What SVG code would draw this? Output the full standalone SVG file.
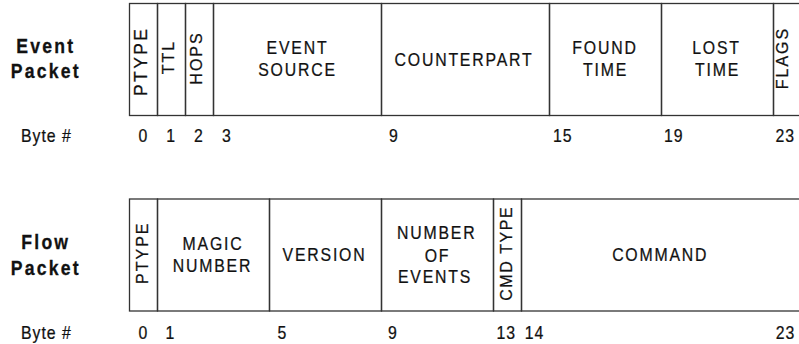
<svg xmlns="http://www.w3.org/2000/svg" width="799" height="344" viewBox="0 0 799 344">
  <style>
    .cell { fill: none; stroke: #333; stroke-width: 1.3; }
    text { font-family: "Liberation Sans", Arial, sans-serif; fill: #111; stroke: #111; stroke-width: 0.25; }
    .lbl { font-size: 18px; letter-spacing: 2.05px; text-anchor: middle; }
    .vlbl { font-size: 16px; letter-spacing: 2px; text-anchor: middle; }
    .num { font-size: 18px; letter-spacing: 1.1px; text-anchor: middle; }
    .title { font-size: 20px; font-weight: bold; letter-spacing: 2.5px; text-anchor: middle; stroke-width: 0.3; }
  </style>

  <!-- Event packet layout -->
  <g id="event-title">
    <text class="title" transform="translate(45.8,53) scale(0.88,1)">Event</text>
    <text class="title" transform="translate(45.8,78) scale(0.88,1)">Packet</text>
  </g>
  <g id="ev-ptype">
    <rect class="cell" x="129.5" y="3.5" width="28" height="112"/>
    <text class="vlbl" style="font-size:17.5px;letter-spacing:2.4px" transform="translate(147,61.3) rotate(-90)">PTYPE</text>
  </g>
  <g id="ev-ttl">
    <rect class="cell" x="157.5" y="3.5" width="28" height="112"/>
    <text class="vlbl" transform="translate(174.3,57) rotate(-90)">TTL</text>
  </g>
  <g id="ev-hops">
    <rect class="cell" x="185.5" y="3.5" width="28" height="112"/>
    <text class="vlbl" transform="translate(201.7,58) rotate(-90)">HOPS</text>
  </g>
  <g id="ev-source">
    <rect class="cell" x="213.5" y="3.5" width="168" height="112"/>
    <text class="lbl" transform="translate(297.5,54) scale(0.88,1)">EVENT</text>
    <text class="lbl" transform="translate(297.5,75.5) scale(0.88,1)">SOURCE</text>
  </g>
  <g id="ev-counterpart">
    <rect class="cell" x="381.5" y="3.5" width="168" height="112"/>
    <text class="lbl" transform="translate(464,65.5) scale(0.88,1)">COUNTERPART</text>
  </g>
  <g id="ev-found">
    <rect class="cell" x="549.5" y="3.5" width="112" height="112"/>
    <text class="lbl" transform="translate(605,54) scale(0.88,1)">FOUND</text>
    <text class="lbl" transform="translate(605.5,75.5) scale(0.88,1)">TIME</text>
  </g>
  <g id="ev-lost">
    <rect class="cell" x="661.5" y="3.5" width="112" height="112"/>
    <text class="lbl" transform="translate(716.5,54) scale(0.88,1)">LOST</text>
    <text class="lbl" transform="translate(717.5,75.5) scale(0.88,1)">TIME</text>
  </g>
  <g id="ev-flags">
    <rect class="cell" x="773.5" y="3.5" width="28" height="112"/>
    <text class="vlbl" transform="translate(788.3,58) rotate(-90)">FLAGS</text>
  </g>
  <g id="event-bytes">
    <text class="num" style="text-anchor:start" transform="translate(21,141.7) scale(0.88,1)">Byte #</text>
    <text class="num" transform="translate(143.5,141.7) scale(0.88,1)">0</text>
    <text class="num" transform="translate(171.2,141.7) scale(0.88,1)">1</text>
    <text class="num" transform="translate(198.8,141.7) scale(0.88,1)">2</text>
    <text class="num" transform="translate(226.8,141.7) scale(0.88,1)">3</text>
    <text class="num" transform="translate(394,141.7) scale(0.88,1)">9</text>
    <text class="num" transform="translate(562.7,141.7) scale(0.88,1)">15</text>
    <text class="num" transform="translate(673.7,141.7) scale(0.88,1)">19</text>
    <text class="num" transform="translate(785.3,141.7) scale(0.88,1)">23</text>
  </g>

  <!-- Flow packet layout -->
  <g id="flow-title">
    <text class="title" transform="translate(45.8,249.3) scale(0.88,1)">Flow</text>
    <text class="title" transform="translate(45.8,274.7) scale(0.88,1)">Packet</text>
  </g>
  <g id="fl-ptype">
    <rect class="cell" x="129.5" y="199" width="28" height="112"/>
    <text class="vlbl" transform="translate(148,252.7) rotate(-90)">PTYPE</text>
  </g>
  <g id="fl-magic">
    <rect class="cell" x="157.5" y="199" width="112" height="112"/>
    <text class="lbl" transform="translate(213,250.3) scale(0.88,1)">MAGIC</text>
    <text class="lbl" transform="translate(212.5,272) scale(0.88,1)">NUMBER</text>
  </g>
  <g id="fl-version">
    <rect class="cell" x="269.5" y="199" width="112" height="112"/>
    <text class="lbl" transform="translate(324.5,261.3) scale(0.88,1)">VERSION</text>
  </g>
  <g id="fl-nevents">
    <rect class="cell" x="381.5" y="199" width="112" height="112"/>
    <text class="lbl" transform="translate(436.7,239.3) scale(0.88,1)">NUMBER</text>
    <text class="lbl" transform="translate(437.5,261.5) scale(0.88,1)">OF</text>
    <text class="lbl" transform="translate(435,282.7) scale(0.88,1)">EVENTS</text>
  </g>
  <g id="fl-cmdtype">
    <rect class="cell" x="493.5" y="199" width="28" height="112"/>
    <text class="vlbl" style="letter-spacing:1.6px" transform="translate(512.3,253.2) rotate(-90)">CMD TYPE</text>
  </g>
  <g id="fl-command">
    <rect class="cell" x="521.5" y="199" width="280" height="112"/>
    <text class="lbl" transform="translate(660.2,261.3) scale(0.88,1)">COMMAND</text>
  </g>
  <g id="flow-bytes">
    <text class="num" style="text-anchor:start" transform="translate(21,338.5) scale(0.88,1)">Byte #</text>
    <text class="num" transform="translate(143.5,338.5) scale(0.88,1)">0</text>
    <text class="num" transform="translate(170.5,338.5) scale(0.88,1)">1</text>
    <text class="num" transform="translate(282.5,338.5) scale(0.88,1)">5</text>
    <text class="num" transform="translate(393,338.5) scale(0.88,1)">9</text>
    <text class="num" transform="translate(506.2,338.5) scale(0.88,1)">13</text>
    <text class="num" transform="translate(534.5,338.5) scale(0.88,1)">14</text>
    <text class="num" transform="translate(785.5,338.5) scale(0.88,1)">23</text>
  </g>
</svg>
